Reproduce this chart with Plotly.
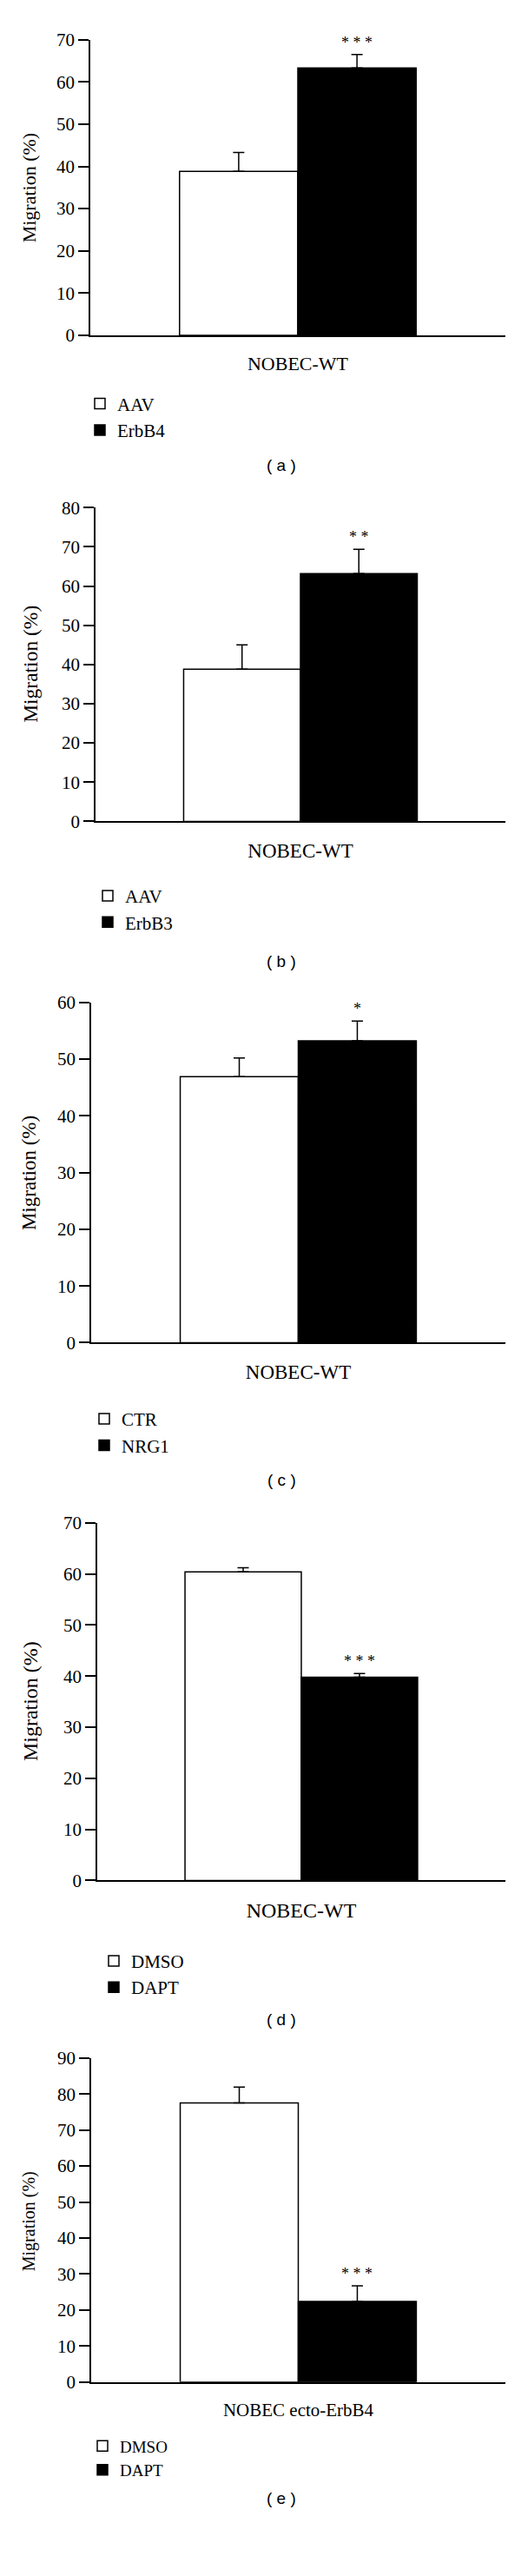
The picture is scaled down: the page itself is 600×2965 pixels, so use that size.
import plotly.graph_objects as go

# ---------------- data ----------------
panel_labels = ["( a )", "( b )", "( c )", "( d )", "( e )"]
categories = ["NOBEC-WT", "NOBEC-WT", "NOBEC-WT", "NOBEC-WT", "NOBEC ecto-ErbB4"]
ctrl_names = ["AAV", "AAV", "CTR", "DMSO", "DMSO"]
treat_names = ["ErbB4", "ErbB3", "NRG1", "DAPT", "DAPT"]
ctrl_values = [38.8, 38.8, 46.9, 60.4, 77.5]
ctrl_errors = [4.5, 6.2, 3.3, 0.8, 4.4]
treat_values = [63.3, 63.2, 53.2, 39.8, 22.4]
treat_errors = [3.2, 6.2, 3.5, 0.7, 4.3]
y_max = [70, 80, 60, 70, 90]
stars = ["* * *", "* *", "*", "* * *", "* * *"]
y_title = "Migration (%)"

# ---------------- layout geometry (pixels) ----------------
W, H = 600, 2965
axis_left = [104, 110, 105, 112, 105]
axis_right = 582
axis_top = [34, 577, 1151, 1755, 2376]
axis_bottom = [377, 941, 1546, 2170, 2752]
ytitle_pos = [(33, 206), (35, 759), (33, 1349), (35, 1962), (33, 2566)]
ytitle_size = [22, 23.5, 23, 24, 20]
xlabel_size = [22, 23, 23, 24, 21]
legend_pos = [(95, 436), (104, 1007), (100, 1614), (111, 2243), (98, 2807)]
legend_size = [21, 21, 21, 21, 19]
panel_label_y = [528, 1103, 1705, 2331, 2887]
bargap = 0.43

SERIF = "Liberation Serif, Times New Roman, serif"
SANS = "Liberation Sans, Arial, sans-serif"

fig = go.Figure()
layout = dict(
    width=W, height=H,
    margin=dict(l=0, r=0, t=0, b=0),
    paper_bgcolor="white", plot_bgcolor="white",
    barmode="group", bargap=bargap, bargroupgap=0,
    showlegend=True,
    font=dict(family=SERIF, color="black"),
)
annotations = []
shapes = []

for i in range(5):
    n = i + 1
    xa = "x" if n == 1 else f"x{n}"
    ya = "y" if n == 1 else f"y{n}"
    lg = "legend" if n == 1 else f"legend{n}"

    fig.add_trace(go.Bar(
        x=[categories[i]], y=[ctrl_values[i]], name=ctrl_names[i],
        marker=dict(color="white", line=dict(color="black", width=1.5)),
        error_y=dict(type="data", array=[ctrl_errors[i]], arrayminus=[0], symmetric=False,
                     color="black", thickness=1.5, width=6.5),
        xaxis=xa, yaxis=ya, legend=lg, offsetgroup="c",
    ))
    fig.add_trace(go.Bar(
        x=[categories[i]], y=[treat_values[i]], name=treat_names[i],
        marker=dict(color="black", line=dict(color="black", width=1.5)),
        error_y=dict(type="data", array=[treat_errors[i]], arrayminus=[0], symmetric=False,
                     color="black", thickness=1.5, width=6.5),
        xaxis=xa, yaxis=ya, legend=lg, offsetgroup="t",
    ))

    xkey = "xaxis" if n == 1 else f"xaxis{n}"
    ykey = "yaxis" if n == 1 else f"yaxis{n}"
    layout[xkey] = dict(
        domain=[axis_left[i] / W, axis_right / W], anchor=ya,
        type="category", range=[-0.5, 0.5],
        showline=True, linecolor="black", linewidth=1.5,
        ticks="", showgrid=False, zeroline=False,
        tickfont=dict(family=SERIF, size=xlabel_size[i], color="black"),
        ticklabelstandoff=12, fixedrange=True,
    )
    layout[ykey] = dict(
        domain=[1 - axis_bottom[i] / H, 1 - axis_top[i] / H], anchor=xa,
        range=[0, y_max[i]], dtick=10, tick0=0,
        showline=True, linecolor="black", linewidth=1.5,
        ticks="outside", ticklen=12, tickwidth=1.5, tickcolor="black",
        showgrid=False, zeroline=False,
        tickfont=dict(family=SERIF, size=21, color="black"),
        fixedrange=True,
    )
    layout[lg] = dict(
        x=legend_pos[i][0] / W, y=1 - legend_pos[i][1] / H,
        xanchor="left", yanchor="top", bgcolor="rgba(0,0,0,0)",
        font=dict(family=SERIF, size=legend_size[i], color="black"),
        traceorder="normal",
    )

    # end ticks on x axis
    for xv in (0, 1):
        shapes.append(dict(
            type="line", xref=f"{xa} domain", yref=ya,
            x0=xv, x1=xv, ysizemode="pixel", yanchor=0, y0=0, y1=-8,
            line=dict(color="black", width=1.5),
        ))

    # y axis title
    annotations.append(dict(
        text=y_title, xref="paper", yref="paper",
        x=ytitle_pos[i][0] / W, y=1 - ytitle_pos[i][1] / H,
        xanchor="center", yanchor="middle", textangle=-90, showarrow=False,
        font=dict(family=SERIF, size=ytitle_size[i], color="black"),
    ))
    # significance stars over treated bar
    half = (1 - bargap) / 2
    annotations.append(dict(
        text=stars[i], xref=xa, yref=ya,
        x=half / 2, y=treat_values[i] + treat_errors[i],
        xanchor="center", yanchor="middle", yshift=14, showarrow=False,
        font=dict(family=SERIF, size=18, color="black"),
    ))
    # panel label
    annotations.append(dict(
        text=panel_labels[i], xref="paper", yref="paper",
        x=324 / W, y=1 - panel_label_y[i] / H,
        xanchor="center", yanchor="middle", showarrow=False,
        font=dict(family=SANS, size=19, color="black"),
    ))

layout["annotations"] = annotations
layout["shapes"] = shapes
fig.update_layout(**layout)
fig.write_html("out.html", config={"displayModeBar": False},
               post_script="document.body.style.margin='0';")
